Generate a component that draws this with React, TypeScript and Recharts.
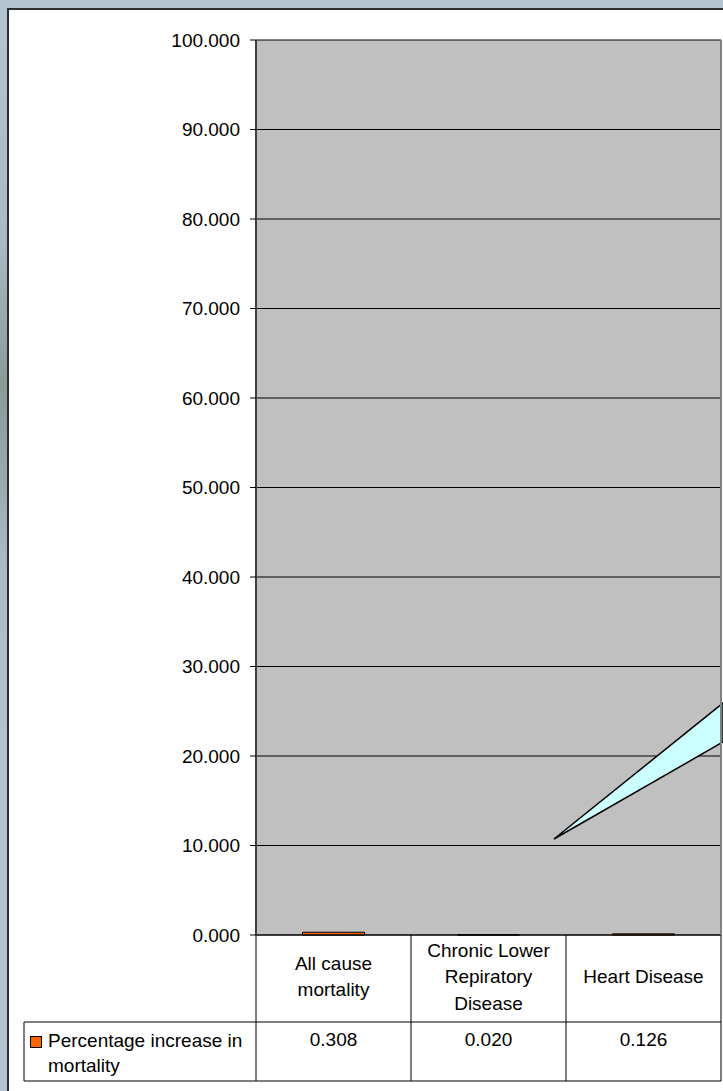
import React from "react";
import { BarChart, Bar, XAxis, YAxis, CartesianGrid, Customized } from "recharts";

const categories = ["All cause\nmortality", "Chronic Lower\nRepiratory\nDisease", "Heart Disease"];
const mortalityIncrease = [0.308, 0.02, 0.126];
const yTicks = [0, 10, 20, 30, 40, 50, 60, 70, 80, 90, 100];
const seriesName = "Percentage increase in\nmortality";

const data = categories.map((c, i) => ({ name: c, value: mortalityIncrease[i] }));

const W = 723;
const H = 1091;
const M = { top: 40, right: 2, bottom: 0, left: 0 };
const YW = 256;
const XH = 156;
const plotW = W - M.left - M.right - YW;
const plotH = H - M.top - M.bottom - XH;
const bw = plotW / categories.length;
const FONT = "'Liberation Sans', Arial, sans-serif";
const FS = 19;
const ORANGE = "#FF6600";

const TableTick = (props: any) => {
  const { x, y, payload, index } = props;
  const lines: string[] = String(payload.value).split("\n");
  const left = x - bw / 2;
  const right = x + bw / 2;
  const row1 = y + 87;
  const row2 = y + 146;
  const first = 48 - ((lines.length - 1) * 26.5) / 2;
  const val = mortalityIncrease[index];
  const legendLines = seriesName.split("\n");
  return (
    <g>
      <line x1={left} y1={y} x2={left} y2={row2} stroke="#000" strokeWidth={1} />
      <line x1={left} y1={row1} x2={right} y2={row1} stroke="#000" strokeWidth={1} />
      <line x1={left} y1={row2} x2={right} y2={row2} stroke="#000" strokeWidth={1} />
      {index === categories.length - 1 && (
        <g>
          <line x1={right} y1={y - plotH} x2={right} y2={y} stroke="#808080" strokeWidth={2} />
          <line x1={right} y1={y} x2={right} y2={row2} stroke="#000" strokeWidth={1} />
        </g>
      )}
      {index === 0 && (
        <g>
          <line x1={24} y1={row1} x2={left} y2={row1} stroke="#000" strokeWidth={1} />
          <line x1={24} y1={row2} x2={left} y2={row2} stroke="#000" strokeWidth={1} />
          <line x1={24} y1={row1} x2={24} y2={row2} stroke="#000" strokeWidth={1} />
          <rect x={30.5} y={row1 + 14.5} width={11} height={11} fill={ORANGE} stroke="#000" strokeWidth={1} />
          {legendLines.map((l, i) => (
            <text key={i} x={48} y={row1 + 25 + i * 25} fontFamily={FONT} fontSize={FS} fill="#000">
              {l}
            </text>
          ))}
        </g>
      )}
      {lines.map((l, i) => (
        <text
          key={i}
          x={x}
          y={y + first + i * 26.5}
          textAnchor="middle"
          fontFamily={FONT}
          fontSize={FS}
          fill="#000"
        >
          {l}
        </text>
      ))}
      <text x={x} y={y + 111} textAnchor="middle" fontFamily={FONT} fontSize={FS} fill="#000">
        {val.toFixed(3)}
      </text>
    </g>
  );
};

const calloutPoints = "554,839 723,703 723,742";
const Callout = () => (
  <polygon points={calloutPoints} fill="#CCFFFF" stroke="#000" strokeWidth={1.5} strokeLinejoin="miter" />
);

export default function App() {
  return (
    <div
      style={{
        position: "fixed",
        left: 0,
        top: 0,
        width: W,
        height: H,
        overflow: "hidden",
        background:
          "linear-gradient(to bottom, #b2c5d1 0%, #a9bac4 22%, #8b9a97 35%, #95a6a8 42%, #aabbc7 52%, #b5c3d1 70%, #b4c1d0 100%)",
      }}
    >
      <div
        style={{
          position: "absolute",
          left: 7,
          top: 8,
          width: W + 20,
          height: H + 20,
          background: "#fff",
          borderLeft: "2px solid #2b2e33",
          borderTop: "2px solid #2b2e33",
        }}
      />
      <div style={{ position: "absolute", left: 0, top: 0 }}>
        <BarChart width={W} height={H} data={data} margin={M} barCategoryGap="30%">
          <CartesianGrid
            vertical={false}
            horizontal={true}
            fill="#C0C0C0"
            fillOpacity={1}
            stroke="#000"
            strokeWidth={1}
            strokeOpacity={1}
          />
          <XAxis
            dataKey="name"
            height={XH}
            interval={0}
            tickLine={false}
            tickSize={0}
            tickMargin={0}
            axisLine={{ stroke: "#000", strokeWidth: 1 }}
            tick={<TableTick />}
          />
          <YAxis
            width={YW}
            domain={[0, 100]}
            ticks={yTicks}
            interval={0}
            tickFormatter={(v: number) => v.toFixed(3)}
            tickSize={6}
            tickMargin={10}
            tickLine={{ stroke: "#000" }}
            axisLine={{ stroke: "#404040", strokeWidth: 2 }}
            tick={{ fontFamily: FONT, fontSize: FS, fill: "#000" }}
          />
          <Bar dataKey="value" fill={ORANGE} stroke="#000" strokeWidth={1} isAnimationActive={false} />
          <Customized component={Callout} />
        </BarChart>
      </div>
    </div>
  );
}
